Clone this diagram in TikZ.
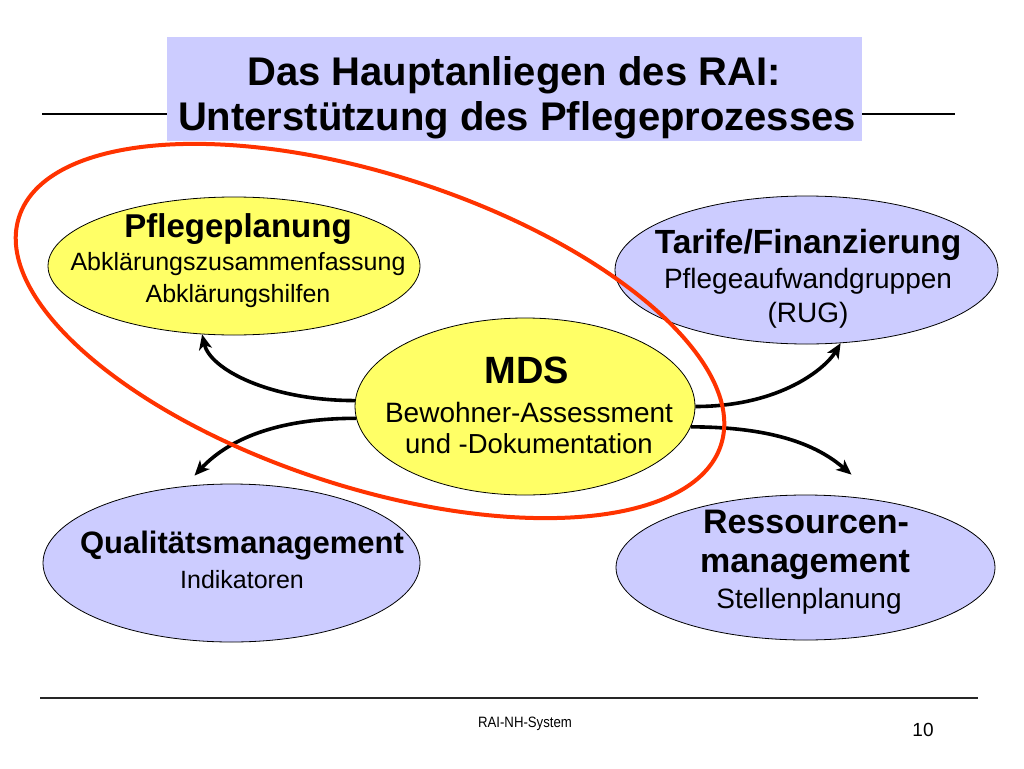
\documentclass[tikz,border=0pt]{standalone}
\usepackage{fontspec}
\setmainfont{Liberation Sans}
\newfontfamily\narrowfont[FakeStretch=0.88]{Liberation Sans}
\usetikzlibrary{shapes.geometric,arrows.meta}
\definecolor{ylw}{RGB}{255,255,102}
\definecolor{lav}{RGB}{204,204,255}
\definecolor{redline}{RGB}{255,51,0}
\begin{document}
\begin{tikzpicture}[x=1pt,y=-1pt,
  bubble/.style={ellipse, draw=black, line width=0.8pt, inner sep=0pt},
  yel/.style={bubble, fill=ylw},
  blu/.style={bubble, fill=lav},
  txt/.style={anchor=base, inner sep=0pt},
  flow/.style={line width=3.6pt, -{Stealth[length=15pt,width=13pt,inset=4pt]}},
]
\useasboundingbox[fill=white] (0,0) rectangle (1024,768);

% title
\draw[line width=1.2pt] (42,114) -- (955,114);
\node[fill=lav, minimum width=695, minimum height=104, inner sep=0pt] (tbox) at (514.5,89) {};
\node[txt, font=\fontsize{40}{46}\selectfont\bfseries] (t1) at (514,85) {Das Hauptanliegen des RAI:};
\node[txt, font=\fontsize{40}{46}\selectfont\bfseries] (t2) at (517,130) {Unterstützung des Pflegeprozesses};

% ellipses
\node[yel, minimum width=372, minimum height=138] (pp) at (234,266) {};
\node[blu, minimum width=383, minimum height=148] (tar) at (806.5,270) {};
\node[yel, minimum width=340, minimum height=177] (mds) at (525,406.5) {};
\node[blu, minimum width=377, minimum height=158] (qual) at (231.5,563) {};
\node[blu, minimum width=379, minimum height=145] (res) at (805.5,567.5) {};

% texts
\node[txt, font=\fontsize{33}{40}\selectfont\bfseries] (pp1) at (238,237) {Pflegeplanung};
\node[txt, font=\fontsize{25}{30}\selectfont] (pp2) at (238,270) {Abklärungszusammenfassung};
\node[txt, font=\fontsize{25}{30}\selectfont] (pp3) at (238,302) {Abklärungshilfen};

\node[txt, font=\fontsize{33.5}{40}\selectfont\bfseries] (tar1) at (808,253) {Tarife/Finanzierung};
\node[txt, font=\fontsize{28}{33}\selectfont] (tar2) at (808,288) {Pflegeaufwandgruppen};
\node[txt, font=\fontsize{28}{33}\selectfont] (tar3) at (808,322) {(RUG)};

\node[txt, font=\fontsize{38}{44}\selectfont\bfseries] (mds1) at (527,383) {MDS};
\node[txt, font=\fontsize{28}{33}\selectfont] (mds2) at (529,422) {Bewohner-Assessment};
\node[txt, font=\fontsize{27.5}{33}\selectfont] (mds3) at (529,453) {und -Dokumentation};

\node[txt, font=\fontsize{31}{37}\selectfont\bfseries] (q1) at (242,553) {Qualitätsmanagement};
\node[txt, font=\fontsize{25}{30}\selectfont] (q2) at (242,588) {Indikatoren};

\node[txt, font=\fontsize{34}{40}\selectfont\bfseries] (r1) at (806,533) {Ressourcen-};
\node[txt, font=\fontsize{34}{40}\selectfont\bfseries] (r2) at (805,572) {management};
\node[txt, font=\fontsize{28}{33}\selectfont] (r3) at (809,608) {Stellenplanung};

% arrows
\coordinate (qtip) at ([shift={(-37,-8)}]qual.north);
\coordinate (rtip) at ([shift={(46,-20)}]res.north);
\draw[flow] (mds.178) .. controls +(-85,0) and +(8,35) .. (pp.245);
\draw[flow] (mds.184) .. controls +(-90,0) and +(28,-30) .. (qtip);
\draw[flow] (mds.0) .. controls +(85,0) and +(-15,25) .. (tar.295);
\draw[flow] (mds.-7) .. controls +(95,0) and +(-27,-23) .. (rtip);

% red enclosing ellipse
\draw[redline, line width=4pt, rotate around={-18:(370,331)}] (370,331) ellipse [x radius=369, y radius=156];

% footer
\draw[line width=1.5pt, black!85] (40,698) -- (978,698);
\node[txt, font=\narrowfont\fontsize{15}{18}\selectfont] (foot) at (525,727) {RAI-NH-System};
\node[txt, font=\fontsize{19}{22}\selectfont] (page) at (923,736) {10};
\end{tikzpicture}
\end{document}
